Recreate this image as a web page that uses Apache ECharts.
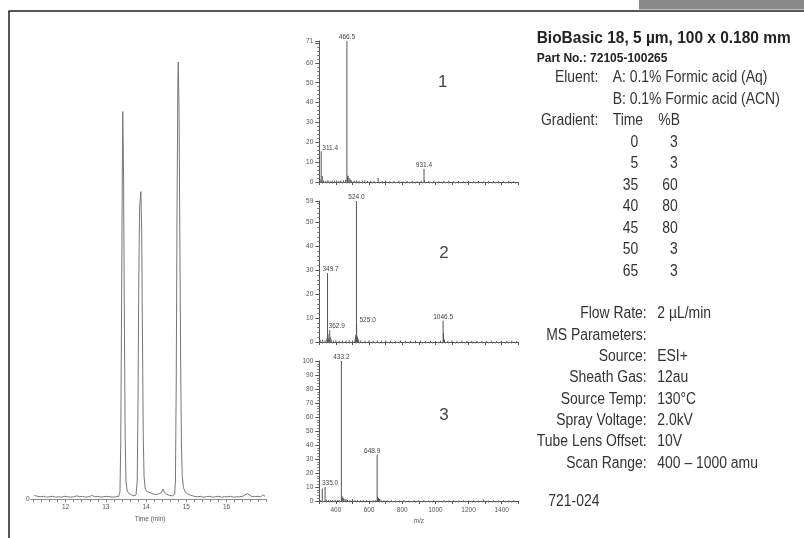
<!DOCTYPE html>
<html>
<head>
<meta charset="utf-8">
<script src="https://cdn.jsdelivr.net/npm/echarts@6/dist/echarts.min.js"></script>
<style>html,body{margin:0;padding:0;background:#fff}#c{width:804px;height:538px}</style>
</head>
<body>
<div id="c"></div>
<script>
// ---------------- DATA ----------------
// Chromatogram (time in min, relative signal)
const chromTime = [11.22,11.30,11.38,11.45,11.52,11.60,11.68,11.75,11.83,11.90,11.98,12.05,12.12,12.20,12.28,12.35,12.42,12.50,12.58,12.65,12.72,12.80,12.88,12.95,13.02,13.10,13.18,13.25,13.32,13.35,13.37,13.39,13.41,13.42,13.44,13.46,13.48,13.50,13.53,13.58,13.64,13.70,13.75,13.78,13.80,13.82,13.84,13.87,13.89,13.91,13.93,13.95,13.98,14.03,14.10,14.18,14.26,14.33,14.38,14.42,14.45,14.50,14.58,14.65,14.71,14.73,14.75,14.77,14.79,14.80,14.82,14.84,14.86,14.88,14.90,14.93,14.97,15.04,15.12,15.20,15.28,15.35,15.42,15.50,15.58,15.65,15.72,15.80,15.88,15.95,16.02,16.10,16.18,16.25,16.32,16.40,16.46,16.52,16.56,16.62,16.70,16.78,16.85,16.90,16.93,16.96];
const chromSignal = [0.8,0.6,0.5,0.6,0.4,0.5,0.6,0.4,0.5,0.4,0.6,0.5,0.4,0.5,0.7,0.5,0.6,0.4,0.5,0.8,0.5,0.6,0.4,0.5,0.6,0.5,0.4,0.5,0.6,1.5,12,42,74,86.1,72,40,14,4,1.8,1.2,0.9,0.7,0.9,4,22,50,65,68.3,60,36,14,5,2.2,1.6,1.4,1.1,1.0,1.2,1.4,2.2,1.6,1.1,0.8,0.7,1.0,4,26,64,92,97.1,86,58,30,12,5,2.5,1.6,1.1,0.8,0.6,0.5,0.6,0.4,0.5,0.6,0.4,0.5,0.6,0.4,0.5,0.5,0.6,0.4,0.5,0.5,0.6,0.9,1.2,0.8,0.6,0.5,0.6,0.5,0.9,1.1,0.6];
const peakNames = ['1','2','3'];
const peakTimes = [13.42, 13.87, 14.80];
const peakHeights = [86.1, 68.3, 97.1];
const chromTickLabels = [12, 13, 14, 15, 16];

// Mass spectra: labelled peaks (m/z, relative intensity)
const ms1Mz = [311.4, 466.5, 931.4];
const ms1Int = [15.5, 71, 6.5];
const ms2Mz = [349.7, 362.9, 524.0, 525.0, 1046.5];
const ms2Int = [28.9, 5, 59, 7.5, 8.9];
const ms3Mz = [335.0, 433.2, 648.9];
const ms3Int = [10, 100, 33];
// Minor (unlabelled) peaks [m/z, intensity]
const ms1Minor = [[305,1.2],[318,3],[326,0.8],[340,0.6],[352,0.9],[365,0.5],[378,0.7],[392,0.6],[405,0.8],[418,0.5],[430,0.7],[445,0.9],[458,1.0],[470,2.8],[474,3.2],[480,2.0],[487,1.2],[495,0.8],[510,0.6],[525,0.7],[540,0.5],[560,0.6],[575,0.8],[590,0.5],[610,0.6],[630,0.5],[655,2.0],[680,0.5],[700,0.6],[725,0.4],[750,0.5],[780,0.6],[805,0.4],[830,0.5],[860,0.6],[890,0.4],[915,0.6],[935,1.0],[960,0.5],[990,0.6],[1020,0.4],[1050,0.5],[1080,0.6],[1110,0.4],[1140,0.5],[1170,0.4],[1200,0.5],[1230,0.4],[1260,0.5],[1290,0.4],[1320,0.5],[1350,0.4],[1380,0.5],[1410,0.4],[1440,0.5],[1470,0.4]];
const ms2Minor = [[305,0.8],[320,1.0],[335,0.6],[346,1.5],[353,3.2],[357,1.5],[366,2.0],[372,1.0],[385,0.6],[400,0.7],[420,0.5],[440,0.6],[460,0.5],[480,0.7],[500,0.6],[515,1.0],[519,2.8],[528,2.4],[531,2.0],[537,1.0],[550,0.6],[575,0.5],[600,0.7],[625,0.5],[650,0.6],[675,0.5],[700,0.6],[730,0.5],[760,0.4],[790,0.6],[820,0.5],[850,0.4],[880,0.5],[910,0.6],[940,0.4],[970,0.5],[1000,0.4],[1030,0.6],[1049,3.8],[1055,1.0],[1075,0.5],[1100,0.6],[1130,0.4],[1160,0.5],[1190,0.4],[1220,0.5],[1250,0.4],[1280,0.5],[1310,0.4],[1340,0.5],[1370,0.4],[1400,0.5],[1430,0.4],[1460,0.5],[1490,0.4]];
const ms3Minor = [[305,0.8],[318,9],[342,1.0],[355,0.8],[368,0.6],[380,0.7],[395,0.9],[410,0.6],[420,0.8],[437,3.5],[441,2.5],[447,2.0],[455,1.2],[462,1.0],[470,0.8],[485,0.7],[500,1.5],[515,0.6],[530,0.5],[548,0.6],[565,0.7],[585,0.5],[605,0.6],[625,0.5],[640,0.8],[652,3.0],[657,2.2],[663,1.5],[672,1.0],[690,0.6],[710,0.5],[735,0.6],[760,0.4],[785,0.5],[810,0.6],[840,0.4],[870,0.5],[900,0.4],[930,0.5],[960,0.4],[990,0.5],[1020,0.4],[1050,0.5],[1080,0.4],[1110,0.5],[1140,0.4],[1170,0.5],[1200,0.4],[1230,0.5],[1260,0.4],[1290,1.0],[1320,0.4],[1350,0.5],[1380,0.4],[1410,0.5],[1440,0.4],[1470,0.5]];
const msYMax = [71, 59, 100];
const msXTickLabels = [400, 600, 800, 1000, 1200, 1400];
const panelNames = ['1', '2', '3'];

// Text block
const titleText = 'BioBasic 18, 5 µm, 100 x 0.180 mm';
const partText = 'Part No.: 72105-100265';
const eluentLabel = 'Eluent:';
const eluentLines = ['A: 0.1% Formic acid (Aq)', 'B: 0.1% Formic acid (ACN)'];
const gradientLabel = 'Gradient:';
const gradientHead = ['Time', '%B'];
const gradTime = [0, 5, 35, 40, 45, 50, 65];
const gradB = [3, 3, 60, 80, 80, 3, 3];
const paramLabels = ['Flow Rate:', 'MS Parameters:', 'Source:', 'Sheath Gas:', 'Source Temp:', 'Spray Voltage:', 'Tube Lens Offset:', 'Scan Range:'];
const paramValues = ['2 µL/min', '', 'ESI+', '12au', '130°C', '2.0kV', '10V', '400 – 1000 amu'];
const figId = '721-024';

// ---------------- LAYOUT / STYLE ----------------
const FONT = '"Liberation Sans", Arial, Helvetica, sans-serif';
const chart = echarts.init(document.getElementById('c'), null, {renderer: 'canvas'});

const msGrids = [
  {left: 319.3, right: 285.7, top: 41, bottom: 356},
  {left: 319.3, right: 285.7, top: 201, bottom: 196},
  {left: 319.3, right: 285.7, top: 361, bottom: 37}
];
const msLabelOffsets = [
  [[9, 0], [0, 0], [0, 0]],
  [[3, 0], [7, 0], [0, 0], [11, 0], [0, 0]],
  [[5, 0], [0, 0], [-5, 0]]
];
const msLabeled = [[ms1Mz, ms1Int], [ms2Mz, ms2Int], [ms3Mz, ms3Int]];
const msMinor = [ms1Minor, ms2Minor, ms3Minor];

const grids = [{left: 33.5, right: 537.3, top: 49, bottom: 39}].concat(msGrids);

const xAxes = [{
  type: 'value', gridIndex: 0, min: 11.2, max: 17, interval: 0.2,
  axisLine: {lineStyle: {color: '#8a8a8a', width: 1}},
  axisTick: {show: true, length: 3, inside: false, lineStyle: {color: '#8a8a8a'}},
  axisLabel: {fontSize: 6.5, color: '#555', fontFamily: FONT, margin: 5, interval: 0,
    formatter: v => {const r = Math.round(v); return (Math.abs(v - r) < 1e-6 && chromTickLabels.includes(r)) ? String(r) : '';}},
  splitLine: {show: false},
  name: 'Time (min)', nameLocation: 'middle', nameGap: 15,
  nameTextStyle: {fontSize: 6.5, color: '#555', fontFamily: FONT}
}];
const yAxes = [{
  type: 'value', gridIndex: 0, min: 0, max: 100, interval: 10,
  axisLine: {show: false},
  axisTick: {show: true, length: 3, customValues: [0], lineStyle: {color: '#8a8a8a'}},
  axisLabel: {fontSize: 6.5, color: '#555', fontFamily: FONT, margin: 4, customValues: [0],
    formatter: v => v === 0 ? '0' : ''},
  splitLine: {show: false}
}];

for (let i = 0; i < 3; i++) {
  const gi = i + 1;
  const isLast = i === 2;
  xAxes.push({
    type: 'value', gridIndex: gi, min: 300, max: 1500, interval: 100,
    axisLine: {lineStyle: {color: '#555', width: 1}},
    axisTick: {show: true, length: 3, lineStyle: {color: '#555'}},
    minorTick: {show: true, splitNumber: 5, length: 1.5, lineStyle: {color: '#777'}},
    axisLabel: {show: isLast, fontSize: 6.5, color: '#555', fontFamily: FONT, margin: 6, interval: 0,
      formatter: v => msXTickLabels.includes(v) ? String(v) : ''},
    splitLine: {show: false},
    name: isLast ? 'm/z' : '', nameLocation: 'middle', nameGap: 17,
    nameTextStyle: {fontSize: 6.5, color: '#555', fontFamily: FONT}
  });
  const ymax = msYMax[i];
  yAxes.push({
    type: 'value', gridIndex: gi, min: 0, max: ymax, interval: 10,
    axisLine: {lineStyle: {color: '#555', width: 1}},
    axisTick: {show: true, length: 4, lineStyle: {color: '#555'}},
    minorTick: {show: true, splitNumber: 5, length: 2, lineStyle: {color: '#777'}},
    axisLabel: {fontSize: 6.5, color: '#555', fontFamily: FONT, margin: 6, showMaxLabel: true,
      formatter: v => (v !== ymax && ymax - v < 5) ? '' : String(v)},
    splitLine: {show: false}
  });
}

const series = [{
  type: 'line', xAxisIndex: 0, yAxisIndex: 0, symbol: 'none', smooth: false,
  lineStyle: {color: '#777', width: 1},
  data: chromTime.map((t, k) => [t, chromSignal[k]]),
  z: 2
}, {
  type: 'scatter', xAxisIndex: 0, yAxisIndex: 0, symbolSize: 1,
  itemStyle: {opacity: 0},
  label: {show: true, position: 'top', distance: 6, fontSize: 15, color: '#333', fontFamily: FONT,
    formatter: p => peakNames[p.dataIndex]},
  data: peakTimes.map((t, k) => [t, peakHeights[k]]),
  z: 3
}];

for (let i = 0; i < 3; i++) {
  const [mzs, ints] = msLabeled[i];
  const data = msMinor[i].map(p => ({value: [p[0], p[1]]}));
  mzs.forEach((mz, k) => {
    data.push({
      value: [mz, ints[k]],
      label: {show: true, position: 'top', distance: 0, offset: msLabelOffsets[i][k],
        formatter: mz.toFixed(1), fontSize: 6.5, color: '#444', fontFamily: FONT}
    });
  });
  series.push({
    type: 'bar', xAxisIndex: i + 1, yAxisIndex: i + 1, barWidth: 1,
    itemStyle: {color: '#555'},
    data: data
  });
}

// Graphic texts
const g = [];
function txt(x, y, text, o) {
  o = o || {};
  g.push({
    type: 'text', x: x, y: y, scaleX: o.sx || 0.87, z: 10,
    style: {text: String(text), fill: o.fill || '#333', font: o.font || ('16px ' + FONT),
      align: o.align || 'left', verticalAlign: 'middle'}
  });
}
// frame
g.push({type: 'rect', shape: {x: 639, y: 0, width: 165, height: 9.5}, style: {fill: '#888'}, z: 1});
g.push({type: 'line', shape: {x1: 8.5, y1: 11, x2: 804, y2: 11}, style: {stroke: '#222', lineWidth: 1.5}, z: 1});
g.push({type: 'line', shape: {x1: 9, y1: 11, x2: 9, y2: 538}, style: {stroke: '#222', lineWidth: 1.5}, z: 1});

// panel numbers
const panelNumPos = [[442.7, 82], [444, 253.5], [444, 415]];
panelNames.forEach((n, k) => txt(panelNumPos[k][0], panelNumPos[k][1], n, {font: '17px ' + FONT, align: 'center', sx: 1, fill: '#444'}));

txt(536.7, 38, titleText, {font: 'bold 17px ' + FONT, sx: 0.91, fill: '#222'});
txt(536.7, 59, partText, {font: 'bold 12.5px ' + FONT, sx: 0.96, fill: '#222'});
const rowY0 = 78, rowStep = 21.5;
txt(598.3, rowY0, eluentLabel, {align: 'right'});
txt(612.7, rowY0, eluentLines[0]);
txt(612.7, rowY0 + rowStep, eluentLines[1]);
txt(598.3, rowY0 + 2 * rowStep, gradientLabel, {align: 'right'});
txt(612.7, rowY0 + 2 * rowStep, gradientHead[0]);
txt(658.3, rowY0 + 2 * rowStep, gradientHead[1]);
gradTime.forEach((t, k) => {
  const y = rowY0 + (3 + k) * rowStep;
  txt(638.3, y, t, {align: 'right'});
  txt(677.7, y, gradB[k], {align: 'right'});
});
const pY0 = 314, pStep = 21.33;
paramLabels.forEach((l, k) => {
  const y = pY0 + k * pStep;
  txt(646.7, y, l, {align: 'right'});
  if (paramValues[k]) txt(657.3, y, paramValues[k]);
});
txt(548.3, 502, figId);

chart.setOption({
  animation: false,
  backgroundColor: '#fff',
  grid: grids,
  xAxis: xAxes,
  yAxis: yAxes,
  series: series,
  graphic: g
});
</script>
</body>
</html>
